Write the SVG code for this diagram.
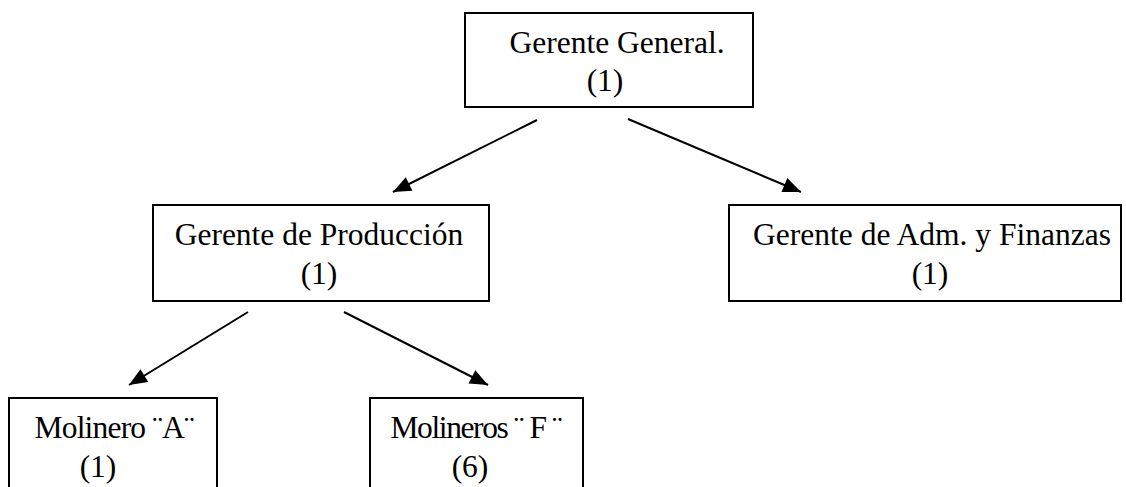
<svg xmlns="http://www.w3.org/2000/svg" width="1126" height="487" viewBox="0 0 1126 487">
<style>
.box{fill:#fff;stroke:#000;stroke-width:2}
.t{font-family:"Liberation Serif","Times New Roman",serif;font-size:31.5px;fill:#000;text-anchor:middle}
.c{stroke:#000;stroke-width:2;fill:none;marker-end:url(#ah)}
</style>
<defs>
<marker id="ah" viewBox="-19 -8 20 16" refX="0" refY="0" markerWidth="20" markerHeight="16" markerUnits="userSpaceOnUse" orient="auto">
<path d="M0,0 L-18,-7.5 L-18,7.5 Z" fill="#000"/>
</marker>
</defs>
<rect width="1126" height="487" fill="#fff"/>
<g id="connectors">
<line class="c" x1="537" y1="120" x2="393" y2="192"/>
<line class="c" x1="628" y1="119" x2="801" y2="192"/>
<line class="c" x1="248" y1="312" x2="129" y2="385"/>
<line class="c" x1="344" y1="312" x2="488" y2="385"/>
</g>
<g id="gerente-general">
<rect class="box" x="465" y="13" width="288" height="94"/>
<text class="t" x="617" y="53">Gerente General.</text>
<text class="t" x="605" y="91">(1)</text>
</g>
<g id="gerente-produccion">
<rect class="box" x="153" y="205" width="336" height="96"/>
<text class="t" x="319" y="245">Gerente de Producción</text>
<text class="t" x="319" y="284">(1)</text>
</g>
<g id="gerente-adm">
<rect class="box" x="729" y="205" width="392" height="96"/>
<text class="t" x="932" y="245">Gerente de Adm. y Finanzas</text>
<text class="t" x="930" y="284">(1)</text>
</g>
<g id="molinero-a">
<rect class="box" x="9" y="398" width="208" height="100"/>
<text class="t" x="114.5" y="438" textLength="160" lengthAdjust="spacing">Molinero ¨A¨</text>
<text class="t" x="98" y="477">(1)</text>
</g>
<g id="molineros-f">
<rect class="box" x="370" y="398" width="213" height="100"/>
<text class="t" x="476.5" y="438" textLength="172" lengthAdjust="spacing">Molineros ¨ F ¨</text>
<text class="t" x="470" y="477">(6)</text>
</g>
</svg>
